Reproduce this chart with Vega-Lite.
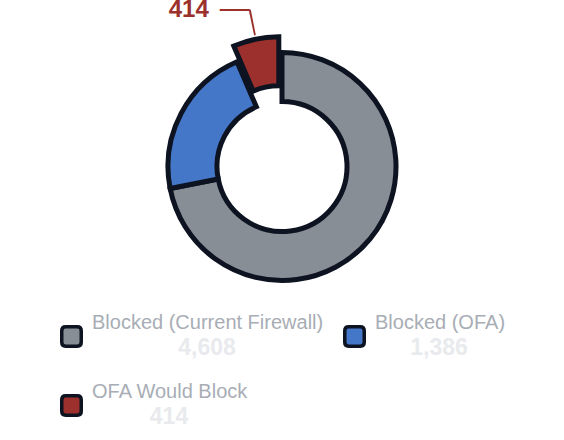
{
  "$schema": "https://vega.github.io/schema/vega-lite/v6.json",
  "padding": 0,
  "bounds": "flush",
  "spacing": 0,
  "config": {"view": {"stroke": null}, "font": "Liberation Sans"},
  "data": {"values": [
    {"cat": "Blocked (Current Firewall)", "value": 4608},
    {"cat": "Blocked (OFA)", "value": 1386},
    {"cat": "OFA Would Block", "value": 414}
  ]},
  "vconcat": [
    {
      "width": 564,
      "height": 333,
      "transform": [{"stack": "value", "groupby": [], "sort": [{"field": "cat", "order": "ascending"}], "as": ["t0", "t1"]}],
      "layer": [
        {
          "mark": {"type": "arc", "outerRadius": 114, "innerRadius": 65, "stroke": "#0d1321", "strokeWidth": 5},
          "encoding": {
            "theta": {"field": "t0", "type": "quantitative", "scale": {"domain": [0, 6408]}},
            "theta2": {"field": "t1"},
            "color": {"field": "cat", "type": "nominal", "scale": {"domain": ["Blocked (Current Firewall)", "Blocked (OFA)", "OFA Would Block"], "range": ["#888e96", "#4577c8", "#9b302c"]}, "legend": null},
            "opacity": {"condition": {"test": "datum.cat === 'OFA Would Block'", "value": 0}, "value": 1}
          }
        },
        {
          "mark": {"type": "arc", "outerRadius": 114, "innerRadius": 65, "stroke": "#0d1321", "strokeWidth": 5, "xOffset": -3.2, "yOffset": -15.7},
          "encoding": {
            "theta": {"field": "t0", "type": "quantitative"},
            "theta2": {"field": "t1"},
            "color": {"field": "cat", "type": "nominal", "legend": null},
            "opacity": {"condition": {"test": "datum.cat === 'OFA Would Block'", "value": 1}, "value": 0}
          }
        },
        {
          "mark": {"type": "arc", "outerRadius": 160, "innerRadius": 134, "thetaOffset": 0.1965, "theta2Offset": -0.1965, "color": "#9b302c", "strokeWidth": 0},
          "encoding": {
            "theta": {"field": "t0", "type": "quantitative"},
            "theta2": {"field": "t1"},
            "opacity": {"condition": {"test": "datum.cat === 'OFA Would Block'", "value": 1}, "value": 0}
          }
        },
        {
          "mark": {"type": "text", "radius": 160, "thetaOffset": -0.203, "align": "right", "baseline": "alphabetic", "dx": -41, "dy": 7.3, "fontSize": 24, "fontWeight": "bold", "color": "#9b302c", "clip": true},
          "encoding": {
            "theta": {"field": "t1", "type": "quantitative"},
            "text": {"field": "value", "type": "quantitative", "format": ","},
            "opacity": {"condition": {"test": "datum.cat === 'OFA Would Block'", "value": 1}, "value": 0}
          }
        },
        {
          "mark": {"type": "text", "text": "—", "radius": 160, "thetaOffset": -0.203, "align": "right", "baseline": "alphabetic", "dx": 0, "dy": 7.9, "fontSize": 30, "color": "#9b302c", "clip": true},
          "encoding": {
            "theta": {"field": "t1", "type": "quantitative"},
            "opacity": {"condition": {"test": "datum.cat === 'OFA Would Block'", "value": 1}, "value": 0}
          }
        }
      ]
    },
    {
      "columns": 2,
      "bounds": "flush",
      "spacing": {"row": 62, "column": 140},
      "concat": [
        {
          "transform": [{"filter": "datum.cat === 'Blocked (Current Firewall)'"}],
          "width": 143, "height": 7,
          "layer": [
            {"mark": {"type": "point", "shape": "M -0.6 -1 L 0.6 -1 Q 1 -1 1 -0.6 L 1 0.6 Q 1 1 0.6 1 L -0.6 1 Q -1 1 -1 0.6 L -1 -0.6 Q -1 -1 -0.6 -1 Z", "filled": true, "size": 380, "stroke": "#0d1321", "strokeWidth": 3.5, "opacity": 1},
             "encoding": {"color": {"field": "cat", "type": "nominal", "legend": null}}},
            {"mark": {"type": "text", "align": "left", "baseline": "alphabetic", "dx": 20.5, "dy": -7.2, "fontSize": 20, "color": "#a8adb5"},
             "encoding": {"text": {"field": "cat"}}},
            {"mark": {"type": "text", "align": "center", "baseline": "alphabetic", "dx": 135.5, "dy": 18.5, "fontSize": 23, "fontWeight": "bold", "color": "#e8eaed"},
             "encoding": {"text": {"field": "value", "type": "quantitative", "format": ","}}}
          ]
        },
        {
          "transform": [{"filter": "datum.cat === 'Blocked (OFA)'"}],
          "width": 143, "height": 7,
          "layer": [
            {"mark": {"type": "point", "shape": "M -0.6 -1 L 0.6 -1 Q 1 -1 1 -0.6 L 1 0.6 Q 1 1 0.6 1 L -0.6 1 Q -1 1 -1 0.6 L -1 -0.6 Q -1 -1 -0.6 -1 Z", "filled": true, "size": 380, "stroke": "#0d1321", "strokeWidth": 3.5, "opacity": 1},
             "encoding": {"color": {"field": "cat", "type": "nominal", "legend": null}}},
            {"mark": {"type": "text", "align": "left", "baseline": "alphabetic", "dx": 20.5, "dy": -7.2, "fontSize": 20, "color": "#a8adb5"},
             "encoding": {"text": {"field": "cat"}}},
            {"mark": {"type": "text", "align": "center", "baseline": "alphabetic", "dx": 84.5, "dy": 18.5, "fontSize": 23, "fontWeight": "bold", "color": "#e8eaed"},
             "encoding": {"text": {"field": "value", "type": "quantitative", "format": ","}}}
          ]
        },
        {
          "transform": [{"filter": "datum.cat === 'OFA Would Block'"}],
          "width": 143, "height": 7,
          "layer": [
            {"mark": {"type": "point", "shape": "M -0.6 -1 L 0.6 -1 Q 1 -1 1 -0.6 L 1 0.6 Q 1 1 0.6 1 L -0.6 1 Q -1 1 -1 0.6 L -1 -0.6 Q -1 -1 -0.6 -1 Z", "filled": true, "size": 380, "stroke": "#0d1321", "strokeWidth": 3.5, "opacity": 1},
             "encoding": {"color": {"field": "cat", "type": "nominal", "legend": null}}},
            {"mark": {"type": "text", "align": "left", "baseline": "alphabetic", "dx": 20.5, "dy": -7.2, "fontSize": 20, "color": "#a8adb5"},
             "encoding": {"text": {"field": "cat"}}},
            {"mark": {"type": "text", "align": "center", "baseline": "alphabetic", "dx": 97.5, "dy": 18.5, "fontSize": 23, "fontWeight": "bold", "color": "#e8eaed"},
             "encoding": {"text": {"field": "value", "type": "quantitative", "format": ","}}}
          ]
        }
      ]
    }
  ]
}
